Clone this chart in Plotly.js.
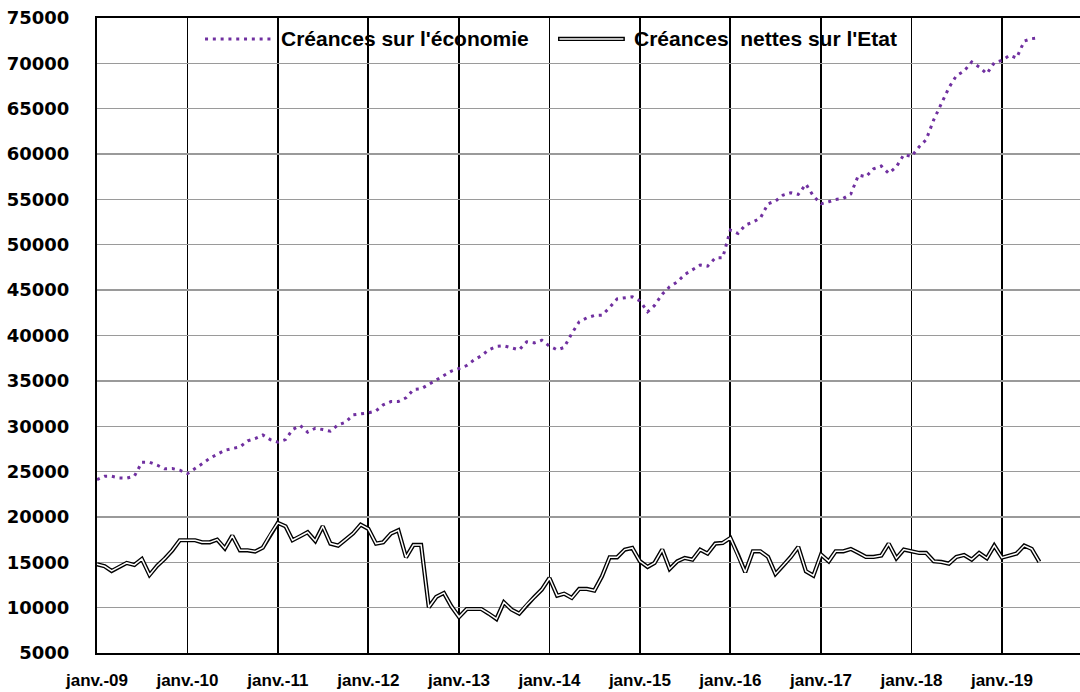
<!DOCTYPE html>
<html>
<head>
<meta charset="utf-8">
<script src="https://cdn.plot.ly/plotly-3.0.1.min.js"></script>
<style>
  html, body { margin: 0; padding: 0; background: #fff; overflow: hidden; }
  #chart { width: 1080px; height: 692px; }
</style>
</head>
<body>
<div id="chart"></div>
<script>
// Monthly series, janvier 2009 to juin 2019
const startYear = 2009;
const monthCount = 126;

const creancesEconomie = [
  24120, 24490, 24490, 24300, 24270, 24490, 26030, 26030, 25700, 25300, 25330, 25150,
  24780, 25300, 25850, 26470, 26880, 27350, 27540, 27720, 28380, 28640, 29040, 28530,
  28240, 28530, 29630, 30070, 29340, 29780, 29630, 29450, 30150, 30440, 31250, 31320,
  31470, 31690, 32350, 32720, 32720, 33130, 34040, 34120, 34630, 35150, 35620, 36070,
  36360, 36690, 37280, 37760, 38420, 38790, 38860, 38680, 38420, 39300, 39190, 39480,
  38820, 38420, 38680, 40220, 41510, 41950, 42200, 42240, 43090, 44040, 44150, 44260,
  43820, 42610, 43310, 44560, 45370, 45920, 46730, 47200, 47760, 47650, 48550, 48570,
  51620, 51250, 52170, 52500, 52940, 54520, 54820, 55480, 55740, 55550, 56690, 55370,
  54520, 54740, 55000, 55110, 55590, 57680, 57500, 58380, 58680, 57870, 58600, 59930,
  59740, 60810, 61580, 63790, 65550, 67320, 68640, 69150, 70150, 69600, 68860, 70070,
  70330, 70880, 70590, 72460, 72720, 72830
];

const creancesNettesEtat = [
  14780, 14560, 14040, 14450, 14930, 14710, 15370, 13600, 14630, 15400, 16320, 17430,
  17430, 17430, 17200, 17200, 17500, 16540, 17940, 16320, 16320, 16180, 16620, 18050,
  19340, 18970, 17430, 17870, 18310, 17350, 18970, 17060, 16840, 17500, 18200, 19150,
  18680, 17060, 17210, 18160, 18530, 15550, 16910, 16910, 10040, 11180, 11620, 10150,
  8970, 9850, 9850, 9850, 9340, 8750, 10590, 9780, 9340, 10330, 11180, 11990,
  13270, 11320, 11540, 11070, 12060, 12060, 11880, 13460, 15550, 15550, 16400, 16580,
  15110, 14490, 14930, 16400, 14270, 15110, 15480, 15290, 16400, 15960, 17060, 17130,
  17680, 15810, 13900, 16210, 16210, 15590, 13710, 14640, 15590, 16690, 14010, 13530,
  15850, 15110, 16210, 16210, 16470, 16030, 15590, 15590, 15740, 17060, 15440, 16400,
  16210, 16030, 16030, 15110, 15040, 14850, 15590, 15810, 15290, 16030, 15440, 16840,
  15510, 15740, 15960, 16840, 16470, 15040
];

const tickLabels = [
  "janv.-09", "janv.-10", "janv.-11", "janv.-12", "janv.-13", "janv.-14",
  "janv.-15", "janv.-16", "janv.-17", "janv.-18", "janv.-19"
];

const seriesNames = ["Créances sur l'économie", "Créances\u00A0 nettes sur l'Etat"];

// First day of each month of the period
const pad = n => String(n).padStart(2, "0");
const months = [];
for (let i = 0; i < monthCount; i++) {
  months.push((startYear + Math.floor(i / 12)) + "-" + pad(i % 12 + 1) + "-01");
}
const januaries = tickLabels.map((_, k) => (startYear + k) + "-01-01");

const purple = "#7030A0";

const traces = [
  {
    x: months, y: creancesEconomie, type: "scatter", mode: "lines",
    name: seriesNames[0], showlegend: false, hoverinfo: "skip",
    line: { color: purple, width: 3, dash: "3px,4.8px" }
  },
  // double line: black casing with a thin white core
  {
    x: months, y: creancesNettesEtat, type: "scatter", mode: "lines",
    name: seriesNames[1], showlegend: false, hoverinfo: "skip",
    line: { color: "#000", width: 4.2 }
  },
  {
    x: months, y: creancesNettesEtat, type: "scatter", mode: "lines",
    name: seriesNames[1], showlegend: false, hoverinfo: "skip",
    line: { color: "#fff", width: 1.5 }
  }
];

// Legend drawn as shapes and labels inside the plot area
const legendY = 0.967;
const legendFont = { family: "Liberation Sans, Arial, sans-serif", size: 21, color: "#000", weight: "bold" };

const layout = {
  width: 1080,
  height: 692,
  margin: { l: 97, r: 0, t: 18, b: 39, pad: 0 },
  paper_bgcolor: "#fff",
  plot_bgcolor: "#fff",
  showlegend: false,
  xaxis: {
    type: "date",
    range: ["2009-01-01", "2019-11-12"],
    tickmode: "array",
    tickvals: januaries,
    ticktext: tickLabels,
    showgrid: true,
    gridcolor: "#000",
    gridwidth: 1.8,
    showline: true,
    mirror: true,
    linecolor: "#000",
    linewidth: 2,
    ticks: "",
    zeroline: false,
    ticklabelstandoff: 11,
    tickfont: { family: "Liberation Sans, Arial, sans-serif", size: 17, color: "#000", weight: "bold" }
  },
  yaxis: {
    range: [5000, 75000],
    tick0: 5000,
    dtick: 5000,
    tickformat: "d",
    showgrid: true,
    gridcolor: "#9a9a9a",
    gridwidth: 1.4,
    showline: true,
    linecolor: "#000",
    linewidth: 2,
    ticks: "",
    zeroline: false,
    ticklabelstandoff: 22,
    tickfont: { family: "DejaVu Sans, sans-serif", size: 18, color: "#000", weight: "bold" }
  },
  shapes: [
    { type: "line", xref: "paper", yref: "paper", x0: 0.1099, x1: 0.178, y0: legendY, y1: legendY,
      line: { color: purple, width: 3, dash: "3px,4.8px" } },
    { type: "line", xref: "paper", yref: "paper", x0: 0.469, x1: 0.537, y0: legendY, y1: legendY,
      line: { color: "#000", width: 4.2 } },
    { type: "line", xref: "paper", yref: "paper", x0: 0.4705, x1: 0.5355, y0: legendY, y1: legendY,
      line: { color: "#fff", width: 1.5 } }
  ],
  annotations: [
    { xref: "paper", yref: "paper", x: 0.1851, y: legendY, xanchor: "left", yanchor: "middle",
      text: seriesNames[0], showarrow: false, font: legendFont },
    { xref: "paper", yref: "paper", x: 0.5443, y: legendY, xanchor: "left", yanchor: "middle",
      text: seriesNames[1], showarrow: false, font: legendFont }
  ]
};

Plotly.newPlot("chart", traces, layout, { staticPlot: true, displayModeBar: false });
</script>
</body>
</html>
